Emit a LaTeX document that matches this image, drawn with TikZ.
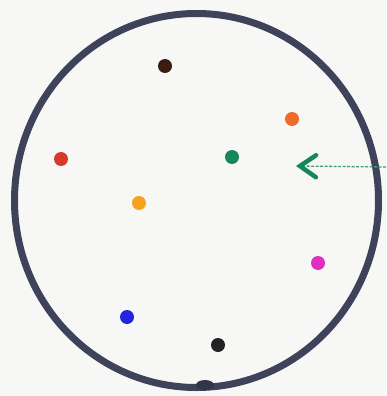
\documentclass[tikz,border=0pt]{standalone}
\usetikzlibrary{arrows.meta}
\definecolor{bgc}{HTML}{F7F8F5}
\definecolor{ringc}{HTML}{3E425A}
\definecolor{cbrown}{HTML}{3A1C12}
\definecolor{corange}{HTML}{F06A2A}
\definecolor{cred}{HTML}{D63A28}
\definecolor{cgreen}{HTML}{17875A}
\definecolor{clinegreen}{HTML}{3F9E78}
\definecolor{cyellow}{HTML}{F7A21E}
\definecolor{cmagenta}{HTML}{DE2FC0}
\definecolor{cblue}{HTML}{2424DC}
\definecolor{cblack}{HTML}{222222}
\begin{document}
\begin{tikzpicture}[x=1pt,y=-1pt,
  dot/.style={circle,inner sep=0pt,minimum size=14pt,fill=#1}]
\useasboundingbox (0,0) rectangle (386,396);
\fill[bgc] (0,0) rectangle (386,396);
\draw[ringc,line width=7pt] (196.5,200.5) ellipse [x radius=182, y radius=187];
\fill[ringc!80!black] (205,385) ellipse [x radius=9, y radius=5];
\node[dot=cbrown] (d1) at (165,66) {};
\node[dot=corange] (d2) at (292,119) {};
\node[dot=cred] (d3) at (61,159) {};
\node[dot=cgreen] (d4) at (232,157) {};
\node[dot=cyellow] (d5) at (139,203) {};
\node[dot=cmagenta] (d6) at (318,263) {};
\node[dot=cblue] (d7) at (127,317) {};
\node[dot=cblack] (d8) at (218,345) {};
\coordinate (as) at (386,167);
\coordinate (ae) at (296,166);
\draw[clinegreen,line width=1.3pt,dash pattern=on 3pt off 1.5pt,
  -{Straight Barb[length=16pt,width=22pt,line width=4.5pt,line cap=round,color=cgreen]}] (as) -- (ae);
\end{tikzpicture}
\end{document}
